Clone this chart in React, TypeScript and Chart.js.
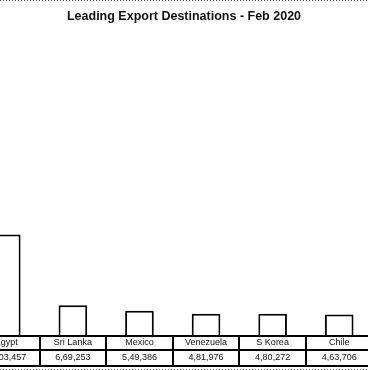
import React, { useEffect, useRef } from "react";
import { Chart, registerables } from "chart.js";

Chart.register(...registerables);

const titleText = "Leading Export Destinations - Feb 2020";
const categories = ["Egypt", "Sri Lanka", "Mexico", "Venezuela", "S Korea", "Chile"];
const values = [2203457, 669253, 549386, 481976, 480272, 463706];
const valueLabels = ["22,03,457", "6,69,253", "5,49,386", "4,81,976", "4,80,272", "4,63,706"];

const OFFSET_X = 40; // canvas starts 40px left of the page
const CANVAS_W = 448;
const CANVAS_H = 370;

const tablePlugin = {
  id: "tablePlugin",
  afterDraw(chart: any) {
    const ctx = chart.ctx;
    const xs = chart.scales.x;
    const area = chart.chartArea;
    const n = categories.length;
    const centers = categories.map((_, i) => xs.getPixelForValue(i));
    const bounds: number[] = [area.left];
    for (let i = 0; i < n - 1; i++) bounds.push((centers[i] + centers[i + 1]) / 2);
    bounds.push(area.right);

    const yTop = 336;
    const yMid = 350;
    const yBot = 366;
    ctx.save();
    ctx.strokeStyle = "#000";
    ctx.lineWidth = 2;
    [yTop, yMid, yBot].forEach((y) => {
      ctx.beginPath();
      ctx.moveTo(area.left, y);
      ctx.lineTo(area.right, y);
      ctx.stroke();
    });
    bounds.slice(1, -1).forEach((bx) => {
      const x = Math.round(bx);
      ctx.beginPath();
      ctx.moveTo(x, yTop - 1);
      ctx.lineTo(x, yBot + 1);
      ctx.stroke();
    });

    ctx.fillStyle = "#111";
    ctx.font = "9px 'Liberation Sans', Arial, sans-serif";
    ctx.textAlign = "center";
    ctx.textBaseline = "middle";
    categories.forEach((c, i) => {
      ctx.fillText(c, centers[i], 343);
      ctx.fillText(valueLabels[i], centers[i], 358);
    });

    // title
    ctx.font = "bold 12.5px 'Liberation Sans', Arial, sans-serif";
    ctx.textBaseline = "alphabetic";
    ctx.fillStyle = "#111";
    ctx.fillText(titleText, 184 + OFFSET_X, 20);

    // dotted frame lines
    ctx.strokeStyle = "#555";
    ctx.lineWidth = 1;
    ctx.setLineDash([1, 2]);
    [0.5, 369.5].forEach((y) => {
      ctx.beginPath();
      ctx.moveTo(OFFSET_X, y);
      ctx.lineTo(OFFSET_X + 368, y);
      ctx.stroke();
    });
    ctx.restore();
  },
};

export default function App() {
  const ref = useRef<HTMLCanvasElement | null>(null);
  useEffect(() => {
    if (!ref.current) return;
    const chart = new Chart(ref.current, {
      type: "bar",
      data: {
        labels: categories,
        datasets: [
          {
            data: values,
            backgroundColor: "#fff",
            borderColor: "#000",
            borderWidth: 2,
            borderSkipped: "bottom",
            barPercentage: 0.43,
            categoryPercentage: 1,
          },
        ],
      },
      options: {
        animation: false,
        responsive: false,
        devicePixelRatio: 1,
        layout: {
          padding: { left: 13, right: 35.5, top: 40, bottom: 34 },
        },
        plugins: {
          legend: { display: false },
          title: { display: false },
          tooltip: { enabled: false },
        },
        scales: {
          x: { display: false, offset: true },
          y: { display: false, min: 0, max: 6420000 },
        },
      },
      plugins: [tablePlugin],
    });
    return () => chart.destroy();
  }, []);

  return (
    <div
      style={{
        position: "fixed",
        left: 0,
        top: 0,
        width: 368,
        height: 370,
        overflow: "hidden",
        background: "#fff",
      }}
    >
      <canvas
        ref={ref}
        width={CANVAS_W}
        height={CANVAS_H}
        style={{ position: "absolute", left: -OFFSET_X, top: 0, width: CANVAS_W, height: CANVAS_H }}
      />
    </div>
  );
}
